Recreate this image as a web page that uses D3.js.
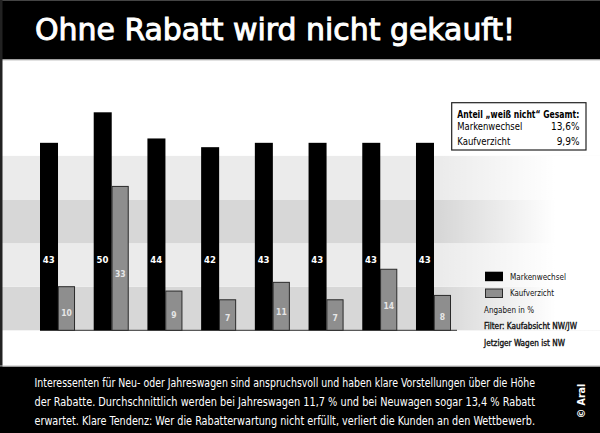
<!DOCTYPE html>
<html><head><meta charset="utf-8">
<script src="https://cdn.jsdelivr.net/npm/d3@7"></script>
<style>
html,body{margin:0;padding:0;background:#fff;}
svg{display:block;}
</style></head>
<body>
<script>
// ---- data ----
const groups = ["G1","G2","G3","G4","G5","G6","G7","G8"];
const seriesNames = ["Markenwechsel","Kaufverzicht"];
const markenwechsel = [43,50,44,42,43,43,43,43];
const kaufverzicht = [10,33,9,7,11,7,14,8];
const stripeEdges = [0,10,20,30,40];
const title = "Ohne Rabatt wird nicht gekauft!";
const boxTitle = "Anteil \u201Eweiß nicht\u201C Gesamt:";
const boxLabels = ["Markenwechsel","Kaufverzicht"];
const boxValues = ["13,6%","9,9%"];
const notes = ["Angaben in %","Filter: Kaufabsicht NW/JW","Jetziger Wagen ist NW"];
const bodyLines = [
 "Interessenten für Neu- oder Jahreswagen sind anspruchsvoll und haben klare Vorstellungen über die Höhe",
 "der Rabatte. Durchschnittlich werden bei Jahreswagen 11,7 % und bei Neuwagen sogar 13,4 % Rabatt",
 "erwartet. Klare Tendenz: Wer die Rabatterwartung nicht erfüllt, verliert die Kunden an den Wettbewerb."
];
const credit = "© Aral";

const W = 600, H = 433;
const FONT = "'DejaVu Sans Condensed','Liberation Sans',sans-serif";
const svg = d3.select("body").append("svg").attr("width", W).attr("height", H)
  .style("font-family", FONT);

const defs = svg.append("defs");
const grad = defs.append("linearGradient").attr("id","fade").attr("gradientUnits","userSpaceOnUse")
  .attr("x1",0).attr("x2",W).attr("y1",0).attr("y2",0);
grad.append("stop").attr("offset", 440/W).attr("stop-color","#fff").attr("stop-opacity",0);
grad.append("stop").attr("offset", 555/W).attr("stop-color","#fff").attr("stop-opacity",1);

// background
svg.append("rect").attr("width",W).attr("height",H).attr("fill","#fff");

// scales
const y = d3.scaleLinear().domain([0,50]).range([330.3, 112.3]);
const x = d3.scaleBand().domain(groups).range([40,451]).paddingInner(0.348).paddingOuter(0);
const xs = d3.scaleBand().domain(seriesNames).range([0, x.bandwidth()]);

// stripes
const stripeCols = ["#d7d7d7","#ebebeb"];
svg.append("g").selectAll("rect").data(d3.pairs(stripeEdges)).join("rect")
  .attr("x", 2).attr("width", W-2)
  .attr("y", d => y(d[1])).attr("height", d => y(d[0]) - y(d[1]))
  .attr("fill", (d,i) => stripeCols[i%2]);
svg.append("rect").attr("x",2).attr("width",W-2)
  .attr("y", y(stripeEdges[stripeEdges.length-1])).attr("height", y(0)-y(stripeEdges[stripeEdges.length-1]))
  .attr("fill","url(#fade)");

// baseline
svg.append("line").attr("x1",40).attr("x2",457).attr("y1",y(0)).attr("y2",y(0))
  .attr("stroke","#333").attr("stroke-width",1);

// bars
const g = svg.append("g");
const gm = g.selectAll("g.grp").data(groups).join("g").attr("class","grp")
  .attr("transform", d => `translate(${x(d)},0)`);
gm.append("rect")
  .attr("x", xs("Markenwechsel")).attr("width", xs.bandwidth()+0.5)
  .attr("y", (d,i) => y(markenwechsel[i])).attr("height", (d,i) => y(0)-y(markenwechsel[i]))
  .attr("fill","#000");
gm.append("rect")
  .attr("x", xs("Kaufverzicht")+0.8).attr("width", xs.bandwidth()-1.3)
  .attr("y", (d,i) => y(kaufverzicht[i])).attr("height", (d,i) => y(0)-y(kaufverzicht[i]))
  .attr("fill","#8e8e8e").attr("stroke","#2a2a2a").attr("stroke-width",1);
gm.append("text")
  .attr("x", xs("Markenwechsel") + xs.bandwidth()/2).attr("y", y(16.3))
  .attr("dy","0.35em").attr("text-anchor","middle")
  .attr("fill","#fff").attr("font-weight","bold").attr("font-size",9.5)
  .text((d,i) => markenwechsel[i]);
gm.append("text")
  .attr("x", xs("Kaufverzicht") + xs.bandwidth()/2 + 0.3).attr("y", (d,i) => y(kaufverzicht[i]*0.39))
  .attr("dy","0.35em").attr("text-anchor","middle")
  .attr("fill","#e6e6e6").attr("font-weight","bold").attr("font-size",8.5)
  .text((d,i) => kaufverzicht[i]);

// legend
const leg = svg.append("g");
const legColors = ["#000","#8e8e8e"];
const legWidths = [56,44];
seriesNames.forEach((s,i) => {
  leg.append("rect").attr("x", i===0?485:485.5).attr("y", (i===0?271.7:289)).attr("width", i===0?18:17).attr("height", i===0?9.5:8.5)
    .attr("fill", legColors[i]).attr("stroke", i===0?"none":"#2a2a2a").attr("stroke-width",1);
  leg.append("text").attr("x",510).attr("y", i===0?276.5:293.3).attr("dy","0.35em")
    .attr("font-size",9).attr("fill","#111")
    .attr("textLength",legWidths[i]).attr("lengthAdjust","spacingAndGlyphs").text(s);
});
const noteWidths = [50,93,81];
notes.forEach((t,i) => {
  leg.append("text").attr("x",484).attr("y", 310 + i*16.3).attr("dy","0.35em")
    .attr("font-size",9).attr("fill","#111")
    .attr("stroke", i===0?"none":"#111").attr("stroke-width",0.35)
    .attr("textLength",noteWidths[i]).attr("lengthAdjust","spacingAndGlyphs").text(t);
});

// info box
const box = svg.append("g");
const boxWidths = [65,53];
box.append("rect").attr("x",451.7).attr("y",102.7).attr("width",134.3).attr("height",47.3)
  .attr("fill","#fff").attr("stroke","#222").attr("stroke-width",1.2);
box.append("text").attr("x",457.3).attr("y",114.8).attr("dy","0.35em").attr("font-size",10)
  .attr("font-weight","bold").attr("fill","#000").attr("textLength",122).attr("lengthAdjust","spacingAndGlyphs").text(boxTitle);
boxLabels.forEach((t,i) => {
  box.append("text").attr("x",457.3).attr("y",126.8 + i*14.5).attr("dy","0.35em").attr("font-size",10)
    .attr("fill","#000").attr("textLength",boxWidths[i]).attr("lengthAdjust","spacingAndGlyphs").text(t);
  box.append("text").attr("x",579.5).attr("y",126.8 + i*14.5).attr("dy","0.35em").attr("font-size",10)
    .attr("text-anchor","end").attr("fill","#000").text(boxValues[i]);
});

// title band
svg.append("rect").attr("x",0).attr("y",0).attr("width",W).attr("height",59.3).attr("fill","#000");
svg.append("line").attr("x1",0).attr("x2",W).attr("y1",59.8).attr("y2",59.8).attr("stroke","#999").attr("stroke-width",1);
svg.append("line").attr("x1",0).attr("x2",W).attr("y1",0.5).attr("y2",0.5).attr("stroke","#444").attr("stroke-width",1);
svg.append("text").attr("x",35).attr("y",40).attr("fill","#fff")
  .attr("stroke","#fff").attr("stroke-width",0.9)
  .attr("font-size",30)
  .attr("textLength",480).attr("lengthAdjust","spacingAndGlyphs")
  .text(title);

// left border
svg.append("rect").attr("x",0).attr("y",0).attr("width",2.5).attr("height",H).attr("fill","#222");

// bottom band
svg.append("line").attr("x1",0).attr("x2",W).attr("y1",366).attr("y2",366).attr("stroke","#bbb").attr("stroke-width",1);
svg.append("rect").attr("x",0).attr("y",366.7).attr("width",W).attr("height",H-366.7).attr("fill","#000");
bodyLines.forEach((t,i) => {
  svg.append("text").attr("x",34.5).attr("y",382.7 + i*19).attr("dy","0.35em")
    .attr("fill","#fff").attr("font-size",11.5)
    .attr("textLength",500.5).attr("lengthAdjust","spacingAndGlyphs")
    .text(t);
});
svg.append("text").attr("transform","translate(581,401) rotate(-90)")
  .attr("text-anchor","middle").attr("dy","0.35em")
  .attr("fill","#fff").attr("font-size",10.5).attr("font-weight","bold")
  .text(credit);
</script>
</body></html>
